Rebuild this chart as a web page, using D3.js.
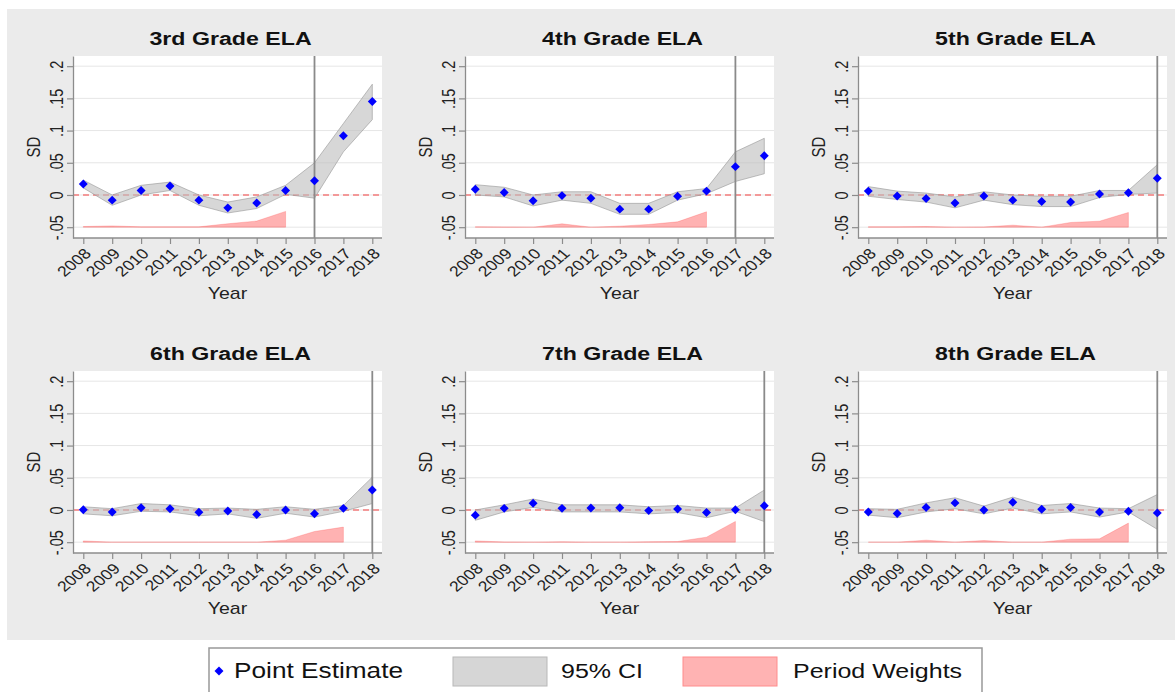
<!DOCTYPE html>
<html>
<head>
<meta charset="utf-8">
<script src="https://cdn.jsdelivr.net/npm/d3@7"></script>
<style>
  html, body { margin: 0; padding: 0; background: #fff; }
  svg { display: block; font-family: "Liberation Sans", Arial, Helvetica, sans-serif; }
</style>
</head>
<body>
<div id="chart"></div>
<script>
// event-study panels, ELA grades 3-8
const years = [2008, 2009, 2010, 2011, 2012, 2013, 2014, 2015, 2016, 2017, 2018];
const titles = ['3rd Grade ELA', '4th Grade ELA', '5th Grade ELA', '6th Grade ELA', '7th Grade ELA', '8th Grade ELA'];
const treatYears = [2016, 2017, 2018, 2018, 2018, 2018];
const yTicks = [-0.05, 0, 0.05, 0.1, 0.15, 0.2];
const yTickLabels = ['-.05', '0', '.05', '.1', '.15', '.2'];
const weightBase = -0.05;

// point estimates, CI bounds, period weights (height above -.05)
const g3Est = [0.017, -0.008, 0.007, 0.014, -0.008, -0.020, -0.0125, 0.007, 0.022, 0.092, 0.145];
const g3Lo  = [0.011, -0.016, 0.000, 0.007, -0.016, -0.028, -0.021, 0.001, -0.005, 0.067, 0.117];
const g3Hi  = [0.023, 0.000, 0.015, 0.020, 0.000, -0.011, -0.003, 0.015, 0.050, 0.111, 0.172];
const g3Wt  = [0.001, 0.002, 0.0005, 0.0005, 0.0005, 0.0053, 0.0095, 0.0245];

const g4Est = [0.009, 0.004, -0.009, -0.001, -0.005, -0.022, -0.022, -0.002, 0.006, 0.044, 0.061];
const g4Lo  = [0.000, -0.003, -0.017, -0.008, -0.013, -0.030, -0.030, -0.008, 0.002, 0.021, 0.033];
const g4Hi  = [0.016, 0.012, 0.000, 0.005, 0.005, -0.013, -0.013, 0.005, 0.010, 0.067, 0.088];
const g4Wt  = [0.0005, 0.0003, 0.0, 0.0052, 0.0, 0.0016, 0.0042, 0.0083, 0.0239];

const g5Est = [0.006, -0.0015, -0.0055, -0.0125, -0.0015, -0.008, -0.010, -0.011, 0.0015, 0.0035, 0.026];
const g5Lo  = [-0.002, -0.007, -0.011, -0.020, -0.008, -0.015, -0.018, -0.018, -0.004, 0.001, 0.003];
const g5Hi  = [0.013, 0.006, 0.003, -0.003, 0.005, 0.000, -0.002, -0.002, 0.007, 0.007, 0.047];
const g5Wt  = [0.0005, 0.0005, 0.001, 0.0, 0.0003, 0.0031, 0.0, 0.0073, 0.0093, 0.0228];

const g6Est = [0.0005, -0.003, 0.0035, 0.002, -0.0035, -0.0015, -0.007, 0.000, -0.006, 0.0025, 0.031];
const g6Lo  = [-0.006, -0.009, -0.002, -0.003, -0.009, -0.006, -0.013, -0.005, -0.011, -0.002, 0.010];
const g6Hi  = [0.005, 0.002, 0.010, 0.008, 0.002, 0.003, 0.001, 0.005, 0.001, 0.007, 0.051];
const g6Wt  = [0.002, 0.0, 0.0, 0.0, 0.0, 0.0, 0.0, 0.0031, 0.0166, 0.0234];

const g7Est = [-0.008, 0.0025, 0.0105, 0.0025, 0.003, 0.0035, -0.001, 0.0015, -0.004, 0.0005, 0.0065];
const g7Lo  = [-0.016, -0.003, 0.004, -0.003, -0.003, -0.003, -0.006, -0.004, -0.012, -0.002, -0.018];
const g7Hi  = [0.000, 0.008, 0.017, 0.008, 0.008, 0.008, 0.005, 0.007, 0.003, 0.003, 0.031];
const g7Wt  = [0.002, 0.0003, 0.0, 0.0005, 0.0, 0.0, 0.0005, 0.001, 0.0078, 0.0322];

const g8Est = [-0.003, -0.0055, 0.004, 0.011, 0.000, 0.012, 0.001, 0.004, -0.003, -0.002, -0.0045];
const g8Lo  = [-0.008, -0.012, -0.003, 0.002, -0.006, 0.003, -0.006, -0.003, -0.011, -0.003, -0.030];
const g8Hi  = [0.002, 0.001, 0.011, 0.019, 0.006, 0.020, 0.007, 0.010, 0.003, 0.002, 0.024];
const g8Wt  = [0.0, 0.0, 0.0031, 0.0, 0.0026, 0.0, 0.0, 0.0047, 0.0052, 0.0296];

const grades = [
    { est: g3Est, lo: g3Lo, hi: g3Hi, wt: g3Wt },
    { est: g4Est, lo: g4Lo, hi: g4Hi, wt: g4Wt },
    { est: g5Est, lo: g5Lo, hi: g5Hi, wt: g5Wt },
    { est: g6Est, lo: g6Lo, hi: g6Hi, wt: g6Wt },
    { est: g7Est, lo: g7Lo, hi: g7Hi, wt: g7Wt },
    { est: g8Est, lo: g8Lo, hi: g8Hi, wt: g8Wt }
];

const W = 1175, H = 692;
const SX = 1.22; // source image is stretched sideways
const panelLefts = [73, 465, 858];
const panelTops = [56, 371];
const plotW = 309, plotH = 182;

const svg = d3.select('#chart').append('svg')
    .attr('width', W)
    .attr('height', H);

svg.append('rect')
    .attr('x', 7).attr('y', 9)
    .attr('width', W - 7).attr('height', 631)
    .attr('fill', '#ebebeb');

const diamond = d3.symbol().type(d3.symbolSquare).size(40);

grades.forEach((gd, i) => {
    const left = panelLefts[i % 3];
    const top = panelTops[Math.floor(i / 3)];
    const g = svg.append('g').attr('transform', `translate(${left},${top})`);

    const x = d3.scaleLinear().domain([2008, 2018]).range([10.3, 299.3]);
    const y = d3.scaleLinear().domain([-0.0668, 0.2158]).range([plotH, 0]);

    g.append('rect')
        .attr('width', plotW).attr('height', plotH)
        .attr('fill', '#fff');

    // grid
    g.append('g').selectAll('line')
        .data(yTicks)
        .enter().append('line')
        .attr('x1', 0).attr('x2', plotW)
        .attr('y1', d => y(d)).attr('y2', d => y(d))
        .attr('stroke', '#e6e6e6')
        .attr('stroke-width', 1);

    // zero line
    g.append('line')
        .attr('x1', 0).attr('x2', plotW)
        .attr('y1', y(0)).attr('y2', y(0))
        .attr('stroke', '#f47c7c')
        .attr('stroke-width', 1.4)
        .attr('stroke-dasharray', '6,4');

    // period weights
    const wData = gd.wt.map((w, k) => ({ year: years[k], w }));
    const wArea = d3.area()
        .x(d => x(d.year))
        .y0(y(weightBase))
        .y1(d => y(weightBase + d.w));
    g.append('path')
        .datum(wData)
        .attr('d', wArea)
        .attr('fill', 'rgba(255,0,0,0.3)')
        .attr('stroke', 'rgba(255,60,60,0.3)')
        .attr('stroke-width', 0.8);

    // 95% CI
    const ciData = years.map((yr, k) => ({ year: yr, lo: gd.lo[k], hi: gd.hi[k] }));
    const ciArea = d3.area()
        .x(d => x(d.year))
        .y0(d => y(d.lo))
        .y1(d => y(d.hi));
    g.append('path')
        .datum(ciData)
        .attr('d', ciArea)
        .attr('fill', 'rgba(190,190,190,0.62)')
        .attr('stroke', 'rgba(150,150,150,0.6)')
        .attr('stroke-width', 1);

    // treatment year
    g.append('line')
        .attr('x1', x(treatYears[i])).attr('x2', x(treatYears[i]))
        .attr('y1', 0).attr('y2', plotH)
        .attr('stroke', '#8a8a8a')
        .attr('stroke-width', 1.8);

    // point estimates
    g.append('g').selectAll('path')
        .data(years.map((yr, k) => ({ year: yr, v: gd.est[k] })))
        .enter().append('path')
        .attr('d', diamond)
        .attr('transform', d => `translate(${x(d.year)},${y(d.v)}) rotate(45)`)
        .attr('fill', '#0000ff');

    // axes
    const yAxis = g.append('g')
        .call(d3.axisLeft(y).tickValues(yTicks).tickFormat((d, k) => yTickLabels[k]).tickSize(6).tickSizeOuter(0));
    yAxis.selectAll('text')
        .attr('x', null).attr('dy', null)
        .attr('text-anchor', 'middle')
        .attr('transform', `translate(-10,0) scale(${SX},1) rotate(-90)`);

    const xAxis = g.append('g')
        .attr('transform', `translate(0,${plotH})`)
        .call(d3.axisBottom(x).tickValues(years).tickFormat(d3.format('d')).tickSize(6).tickSizeOuter(0));
    xAxis.selectAll('text')
        .attr('y', null).attr('dy', '0.35em')
        .attr('text-anchor', 'end')
        .attr('transform', `translate(4,13) scale(${SX},1) rotate(-45)`);

    [yAxis, xAxis].forEach(ax => {
        ax.attr('font-family', null).attr('font-size', 14.5);
        ax.selectAll('.domain').attr('stroke', '#8c8c8c').attr('stroke-width', 1.3);
        ax.selectAll('.tick line').attr('stroke', '#8c8c8c').attr('stroke-width', 1.2);
        ax.selectAll('text').attr('fill', '#222');
    });
    xAxis.select('.domain').attr('d', `M0,0H${plotW}`);

    // titles
    g.append('text')
        .attr('transform', `translate(${plotW / 2 + 3},-11) scale(${SX},1)`)
        .attr('text-anchor', 'middle')
        .attr('font-size', 19)
        .attr('font-weight', 'bold')
        .attr('fill', '#111')
        .text(titles[i]);

    g.append('text')
        .attr('transform', `translate(-33,${plotH / 2}) scale(${SX},1) rotate(-90)`)
        .attr('text-anchor', 'middle')
        .attr('font-size', 15)
        .attr('fill', '#222')
        .text('SD');

    g.append('text')
        .attr('transform', `translate(${plotW / 2},${plotH + 61}) scale(${SX},1)`)
        .attr('text-anchor', 'middle')
        .attr('font-size', 16)
        .attr('fill', '#222')
        .text('Year');
});

// legend
const leg = svg.append('g');
leg.append('rect')
    .attr('x', 209).attr('y', 648)
    .attr('width', 773).attr('height', 60)
    .attr('fill', '#fff')
    .attr('stroke', '#999')
    .attr('stroke-width', 1.5);

leg.append('path')
    .attr('d', diamond)
    .attr('transform', 'translate(219,671) rotate(45)')
    .attr('fill', '#0000ff');

leg.append('rect')
    .attr('x', 453).attr('y', 657).attr('width', 94).attr('height', 29)
    .attr('fill', '#d6d6d6').attr('stroke', '#b8b8b8');

leg.append('rect')
    .attr('x', 683).attr('y', 657).attr('width', 94).attr('height', 29)
    .attr('fill', '#ffb3b3').attr('stroke', '#ff8c8c');

const legendLabels = ['Point Estimate', '95% CI', 'Period Weights'];
const legendX = [234, 561, 793];
const legendSize = [21.5, 20.5, 20.5];
leg.selectAll('text.lab')
    .data(legendLabels)
    .enter().append('text')
    .attr('class', 'lab')
    .attr('transform', (d, k) => `translate(${legendX[k]},678) scale(${SX},1)`)
    .attr('font-size', (d, k) => legendSize[k])
    .attr('fill', '#111')
    .text(d => d);
</script>
</body>
</html>
